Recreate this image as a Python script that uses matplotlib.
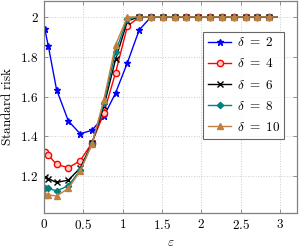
import matplotlib.pyplot as plt
from matplotlib.ticker import FuncFormatter

plt.rcParams['mathtext.fontset'] = 'cm'
plt.rcParams['font.family'] = 'serif'
plt.rcParams['font.serif'] = ['DejaVu Serif']

eps = [0.01, 0.055, 0.16, 0.31, 0.46, 0.61, 0.76, 0.91, 1.06, 1.21, 1.36, 1.51,
       1.66, 1.81, 1.96, 2.11, 2.26, 2.41, 2.56, 2.71, 2.86, 2.96]
tail = [2.0] * 13

risk_d2 = [1.94, 1.855, 1.635, 1.477, 1.413, 1.43, 1.50, 1.618, 1.77, 1.935] + [2.0] * 12
risk_d4 = [1.322, 1.306, 1.259, 1.242, 1.277, 1.367, 1.516, 1.72, 1.953] + tail
risk_d6 = [1.197, 1.188, 1.168, 1.18, 1.24, 1.365, 1.55, 1.787, 1.98] + tail
risk_d8 = [1.141, 1.138, 1.126, 1.151, 1.23, 1.362, 1.566, 1.826, 1.99] + tail
risk_d10 = [1.106, 1.106, 1.10, 1.138, 1.225, 1.36, 1.583, 1.86, 2.0] + tail

series = [
    (risk_d2, r'$\delta\ =\ 2$', 'blue', '*', 'blue', 4.5),
    (risk_d4, r'$\delta\ =\ 4$', 'red', 'o', '#ffd0d0', 4.5),
    (risk_d6, r'$\delta\ =\ 6$', 'black', 'x', 'black', 4),
    (risk_d8, r'$\delta\ =\ 8$', 'teal', 'D', 'teal', 3.2),
    (risk_d10, r'$\delta\ =\ 10$', (0.75, 0.5, 0.25), '^', (0.75, 0.5, 0.25), 4.5),
]

fig = plt.figure(figsize=(3.01, 2.48), dpi=100)
ax = fig.add_axes([0.146, 0.143, 0.841, 0.853])

marks = list(range(len(eps) - 1))
for vals, lab, col, mk, fc, ms in series:
    ax.plot(eps, vals, color=col, lw=1.0, marker=mk, ms=ms,
            mfc=fc, mec=col, mew=1.0, markevery=marks, label=lab)

ax.set_xlim(0, 3.215)
ax.set_ylim(1.017, 2.08)
ax.set_xticks([0, 0.5, 1, 1.5, 2, 2.5, 3])
ax.set_yticks([1.2, 1.4, 1.6, 1.8, 2])
fmt = FuncFormatter(lambda v, p: f'${v:g}$')
ax.xaxis.set_major_formatter(fmt)
ax.yaxis.set_major_formatter(fmt)
ax.tick_params(direction='in', top=True, right=True, length=3, width=0.6,
               color='#808080', labelsize=9.5, pad=4)
for s in ax.spines.values():
    s.set_color('#808080')
    s.set_linewidth(0.9)
ax.grid(True, linestyle=':', color='#cccccc', lw=0.7)

ax.set_xlabel(r'$\varepsilon$', fontsize=9.5, labelpad=3)
ax.set_ylabel(r'$\mathrm{Standard\ risk}$', fontsize=9.5, labelpad=4)

leg = ax.legend(loc='upper right', bbox_to_anchor=(0.95, 0.855), fontsize=9.5,
                frameon=True, fancybox=False, edgecolor='#404040',
                handlelength=1.8, handletextpad=0.4, borderpad=0.35,
                labelspacing=0.62, borderaxespad=0)
leg.get_frame().set_linewidth(0.8)

fig.savefig('out.png', dpi=100)
